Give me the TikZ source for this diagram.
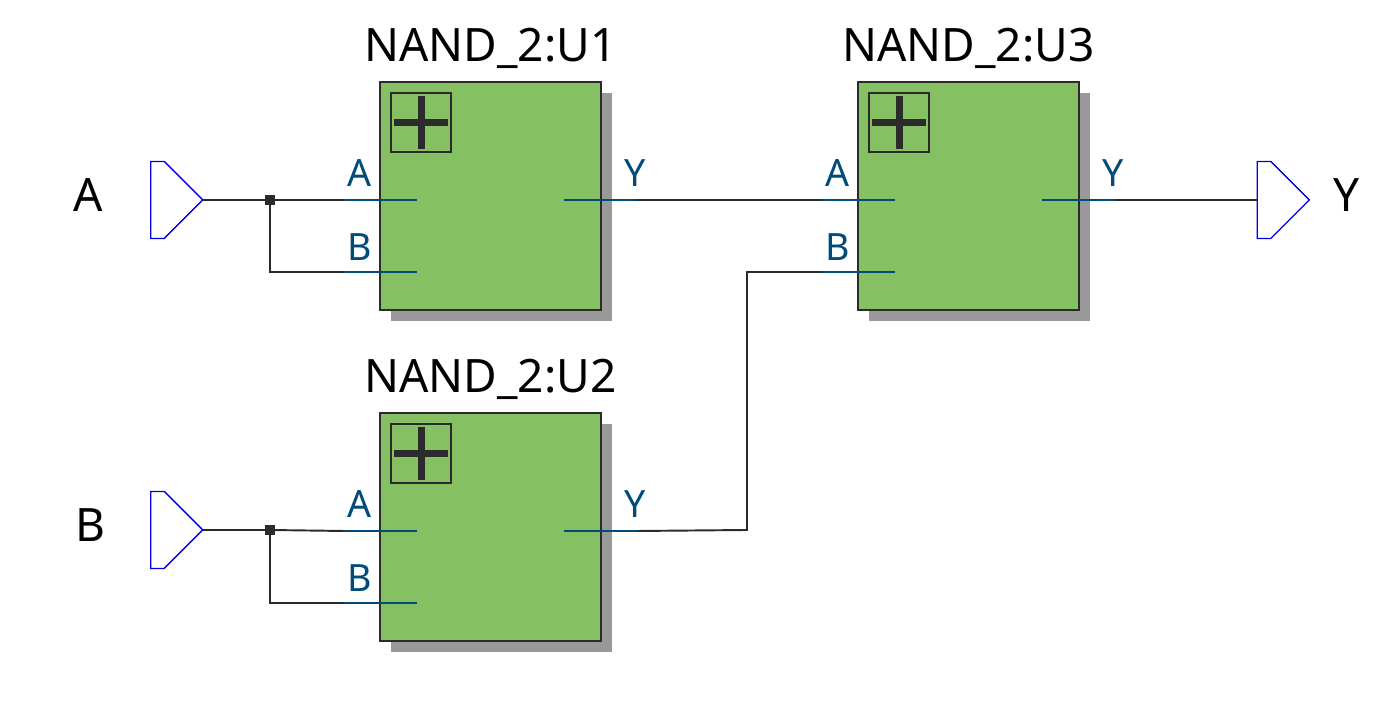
\documentclass[tikz,border=0pt]{standalone}
\usepackage{fontspec}
\setmainfont{Noto Sans}
\usetikzlibrary{calc}
\usetikzlibrary{positioning}
\usetikzlibrary{shadows}
\usetikzlibrary{shapes.symbols}
\definecolor{mgreen}{HTML}{85C162}
\definecolor{mshade}{HTML}{999999}
\definecolor{mwire}{HTML}{2B2B2B}
\definecolor{mpin}{HTML}{004B7A}
\definecolor{mport}{rgb}{0, 0, 0.9}
\tikzset{block/.style = {draw = mwire, fill = mgreen, line width = 1.1pt, inner sep = 0,
                         minimum width = 4.42cm, minimum height = 4.56cm,
                         drop shadow = {shadow xshift = 0.22cm, shadow yshift = -0.22cm,
                                        fill = mshade, opacity = 1}}}
\tikzset{plusbox/.style = {draw = mwire, line width = 0.9pt, inner sep = 0, minimum size = 1.19cm}}
\tikzset{plusbar/.style = {draw = mwire, line width = 0.14cm, shorten < = 0.08cm, shorten > = 0.08cm}}
\tikzset{port/.style = {signal, signal to = east, signal pointer angle = 90, draw = mport,
                        line width = 0.8pt, inner sep = 0, outer sep = 0,
                        minimum width = 1.04cm, minimum height = 1.54cm}}
\tikzset{junction/.style = {fill = mwire, inner sep = 0, minimum size = 0.2cm}}
\tikzset{wire/.style = {draw = mwire, line width = 1.1pt}}
\tikzset{pin/.style = {draw = mpin, line width = 1.1pt}}
\tikzset{pinlabel/.style = {text = mpin, anchor = base, font = \fontsize{21.4}{26}\selectfont}}
\tikzset{bigtext/.style = {text = black, anchor = base, font = \fontsize{26.2}{32}\selectfont}}

\begin{document}
\begin{tikzpicture}
      \useasboundingbox (0, 0) rectangle (27.82, 14.5);

      \foreach \u/\x/\y in {U1/9.81/10.58, U2/9.81/3.96, U3/19.37/10.58} {
        \node [block] (\u) at (\x, \y) {};
        \node [bigtext] (\u-title) at ($(\u.north) + (0, 0.386)$) {NAND\_2:\u};
        \node [plusbox] (\u-box) at ($(\u) + (-1.39, 1.47)$) {};
        \draw [plusbar] (\u-box.west) -- (\u-box.east);
        \draw [plusbar] (\u-box.north) -- (\u-box.south);

        \coordinate (\u-Aout) at ($(\u) + (-2.93, -0.08)$);
        \coordinate (\u-Ain) at ($(\u) + (-1.47, -0.08)$);
        \coordinate (\u-Bout) at ($(\u) + (-2.93, -1.52)$);
        \coordinate (\u-Bin) at ($(\u) + (-1.47, -1.52)$);
        \coordinate (\u-Yin) at ($(\u) + (1.47, -0.08)$);
        \coordinate (\u-Yout) at ($(\u) + (2.95, -0.08)$);

        \draw [pin] (\u-Aout) -- (\u-Ain);
        \draw [pin] (\u-Bout) -- (\u-Bin);
        \draw [pin] (\u-Yin) -- (\u-Yout);

        \node [pinlabel] (\u-Alabel) at ($(\u) + (-2.61, 0.18)$) {A};
        \node [pinlabel] (\u-Blabel) at ($(\u) + (-2.61, -1.29)$) {B};
        \node [pinlabel] (\u-Ylabel) at ($(\u) + (2.89, 0.18)$) {Y};
      }

      \node [port] (inA) at (3.15, 10.5) {};
      \node [port] (inB) at (3.15, 3.9) {};
      \node [port] (outY) at (25.28, 10.5) {};

      \node [bigtext] (inA-label) at (1.76, 10.27) {A};
      \node [bigtext] (inB-label) at (1.8, 3.67) {B};
      \node [bigtext] (outY-label) at (26.94, 10.27) {Y};

      \node [junction] (J1) at (5.4, 10.5) {};
      \node [junction] (J2) at (5.4, 3.9) {};
      \coordinate (bend) at (14.94, 3.9);

      \draw [wire] (inA.east) -- (J1.center) -- (U1-Aout);
      \draw [wire] (J1.center) |- (U1-Bout);
      \draw [wire] (inB.east) -- (J2.center) -- (U2-Aout);
      \draw [wire] (J2.center) |- (U2-Bout);
      \draw [wire] (U1-Yout) -- (U3-Aout);
      \draw [wire] (U2-Yout) -- (bend) |- (U3-Bout);
      \draw [wire] (U3-Yout) -- (outY.west);
\end{tikzpicture}
\end{document}
